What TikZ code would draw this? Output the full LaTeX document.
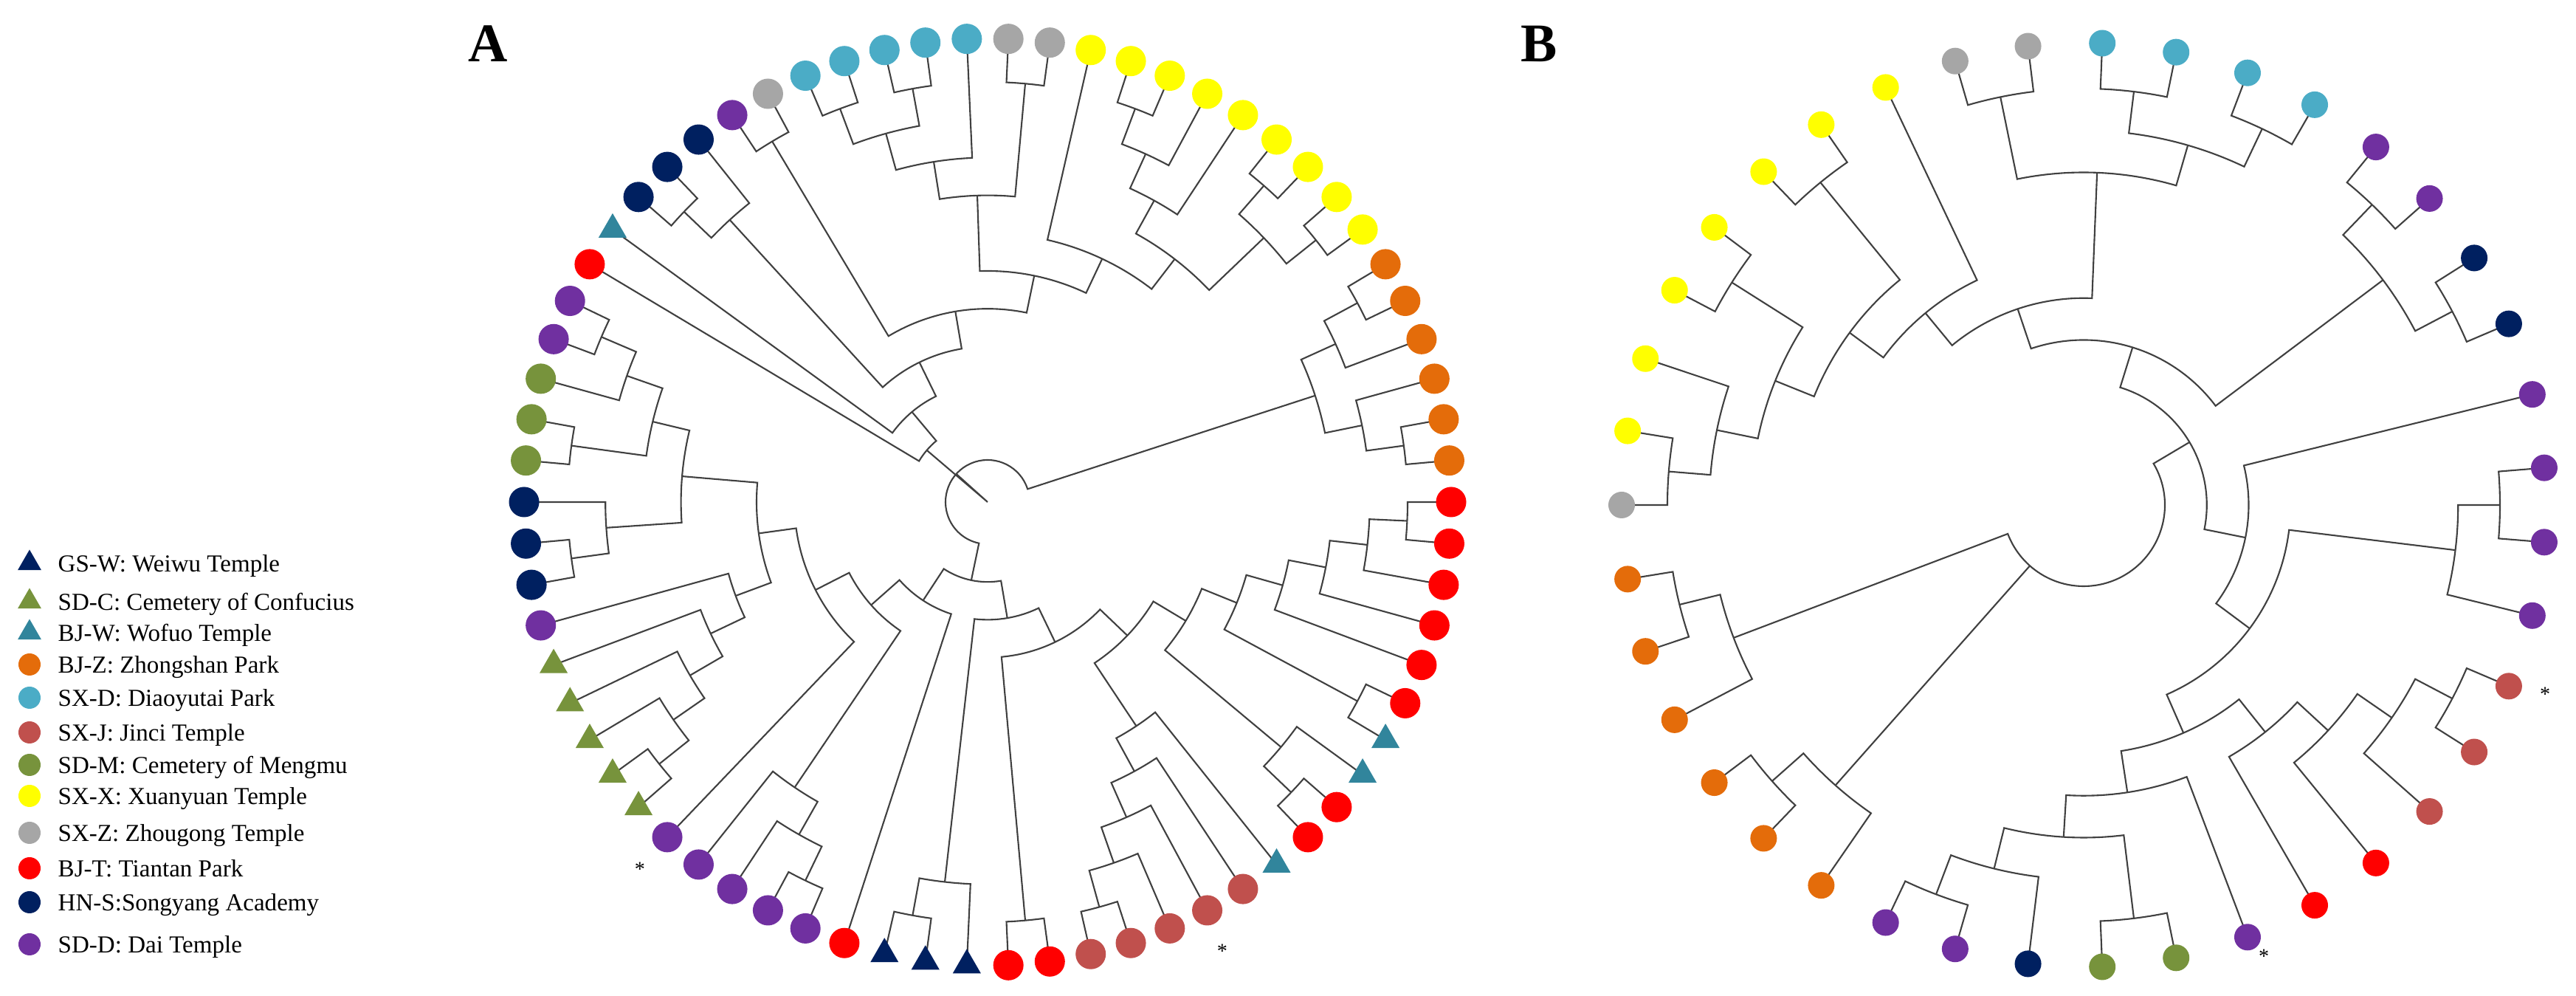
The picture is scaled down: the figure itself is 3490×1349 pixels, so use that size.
\documentclass[tikz,border=0pt]{standalone}
\usepackage{fontspec}
\setmainfont{Liberation Serif}
\usetikzlibrary{shapes.geometric}

\definecolor{cgsw}{HTML}{002060}
\definecolor{csdc}{HTML}{77933C}
\definecolor{cbjw}{HTML}{31859C}
\definecolor{cbjz}{HTML}{E46C0A}
\definecolor{csxd}{HTML}{4BACC6}
\definecolor{csxj}{HTML}{C0504D}
\definecolor{csdm}{HTML}{77933C}
\definecolor{csxx}{HTML}{FFFF00}
\definecolor{csxz}{HTML}{A6A6A6}
\definecolor{cbjt}{HTML}{FF0000}
\definecolor{chns}{HTML}{002060}
\definecolor{csdd}{HTML}{7030A0}

\def\trisize{0.44cm}
\def\dotsize{0.41cm}
\tikzset{
  branch/.style={draw=black!75, line width=0.6pt},
  tiptri/.style={regular polygon, regular polygon sides=3, inner sep=0pt, minimum size=\trisize},
  tipdot/.style={circle, inner sep=0pt, minimum size=\dotsize},
  gsw/.style={tiptri, fill=cgsw}, sdc/.style={tiptri, fill=csdc}, bjw/.style={tiptri, fill=cbjw},
  bjz/.style={tipdot, fill=cbjz}, sxd/.style={tipdot, fill=csxd}, sxj/.style={tipdot, fill=csxj},
  sdm/.style={tipdot, fill=csdm}, sxx/.style={tipdot, fill=csxx}, sxz/.style={tipdot, fill=csxz},
  bjt/.style={tipdot, fill=cbjt}, hns/.style={tipdot, fill=chns}, sdd/.style={tipdot, fill=csdd},
  legtext/.style={font=\fontsize{9.4}{11}\selectfont, inner sep=0pt, anchor=base west},
  panel/.style={font=\fontsize{21}{24}\selectfont\bfseries, inner sep=0pt},
  astnote/.style={font=\fontsize{8}{8}\selectfont, inner sep=0pt}
}

% clade: name, level, child, child
\newcommand{\clade}[4]{%
  \pgfmathsetmacro\brR{\lvbase+\lvstep*#2}%
  \pgfmathsetmacro\brC{0.01*\brR}%
  \edef\brA{\csname ang@#3\endcsname}%
  \edef\brB{\csname ang@#4\endcsname}%
  \pgfmathsetmacro\brM{(\brA+\brB)/2}%
  \draw[branch] (#3) -- (\brA:\brR) arc[start angle=\brA, end angle=\brB, radius=\brC cm] -- (#4);%
  \coordinate (#1) at (\brM:\brR);%
  \expandafter\xdef\csname ang@#1\endcsname{\brM}}
\newcommand{\twig}[2]{%
  \pgfmathsetmacro\brR{\lvbase+\lvstep*#1}%
  \edef\brA{\csname ang@#2\endcsname}%
  \draw[branch] (\brA:\brR) -- (#2);}

\begin{document}
\begin{tikzpicture}[x=0.01cm, y=0.01cm]
\useasboundingbox (0,0) rectangle (3490,1349);

% legend
\def\trisize{0.37cm}\def\dotsize{0.30cm}
\foreach \y/\s/\t [count=\i] in {586/gsw/{GS-W: Weiwu Temple}, 534/sdc/{SD-C: Cemetery of Confucius},
  492/bjw/{BJ-W: Wofuo Temple}, 449/bjz/{BJ-Z: Zhongshan Park}, 404/sxd/{SX-D: Diaoyutai Park},
  357/sxj/{SX-J: Jinci Temple}, 313/sdm/{SD-M: Cemetery of Mengmu}, 271/sxx/{SX-X: Xuanyuan Temple},
  221/sxz/{SX-Z: Zhougong Temple}, 173/bjt/{BJ-T: Tiantan Park}, 127/hns/{HN-S:Songyang Academy},
  70/sdd/{SD-D: Dai Temple}}
{
  \node[\s] (key\i) at (40,\y) {};
  \node[legtext] (lab\i) at (78,{\y-12}) {\t};
}

\node[panel] (labA) at (661,1290) {A};
\node[panel] (labB) at (2085,1290) {B};

% tree A
\begin{scope}[shift={(1338,669)}]
\def\lvbase{5.8}\def\lvstep{51.2}
\def\trisize{0.44cm}\def\dotsize{0.41cm}
\foreach \k in {0,...,69}{%
  \pgfmathsetmacro\ang{\k<18 ? (18-\k)*5.142857 : (88-\k)*5.142857}%
  \coordinate (a\k) at (\ang:628);%
  \expandafter\xdef\csname ang@a\k\endcsname{\ang}}

\clade{oA1}{11}{a12}{a13}
\clade{oA2}{10}{oA1}{a14}
\clade{oA3}{11}{a16}{a17}
\clade{oA4}{10}{a15}{oA3}
\clade{oA}{9}{oA2}{oA4}
\clade{lA1}{11}{a18}{a19}
\clade{lA2}{10}{lA1}{a20}
\clade{lA3}{9}{lA2}{a21}
\clade{lA4}{8}{lA3}{a22}
\clade{lA5}{11}{a23}{a24}
\clade{lA}{7}{lA4}{lA5}
\clade{tA1}{11}{a26}{a27}
\clade{tA}{10}{a25}{tA1}
\clade{mA2}{6}{lA}{tA}
\clade{hA1}{11}{a32}{a33}
\clade{hA2}{10}{hA1}{a31}
\clade{hA3}{9}{hA2}{a30}
\clade{hA4}{8}{hA3}{a29}
\clade{mA1}{7}{hA4}{a28}
\clade{mA}{5}{mA1}{mA2}
\clade{jA}{11}{a34}{a35}
\clade{naA}{4}{jA}{mA}
\clade{gA1}{11}{a37}{a38}
\clade{gA}{10}{a36}{gA1}
\clade{pA}{3}{gA}{naA}
\clade{sA7}{11}{a40}{a41}
\clade{sA6}{10}{a42}{sA7}
\clade{sA4}{9}{a43}{sA6}
\clade{sA14}{11}{a45}{a46}
\clade{sA13}{10}{sA14}{a47}
\clade{sA12}{9}{sA13}{a48}
\clade{sA11}{8}{sA12}{a49}
\clade{sA10}{7}{sA11}{a50}
\clade{vA1}{11}{a51}{a52}
\clade{vA}{10}{vA1}{a53}
\clade{wA5}{11}{a57}{a58}
\clade{wA4}{10}{a56}{wA5}
\clade{wA3}{11}{a54}{a55}
\clade{wA2}{9}{wA3}{wA4}
\clade{wA}{8}{vA}{wA2}
\clade{sA8}{6}{sA10}{wA}
\clade{sA3}{5}{a44}{sA8}
\clade{sA2}{4}{sA4}{sA3}
\clade{sA}{3}{a39}{sA2}
\clade{qA}{2}{sA}{pA}
\clade{rA1}{1}{oA}{qA}
\clade{cA1}{11}{a68}{a69}
\clade{cA2}{11}{a66}{a67}
\clade{cA3}{10}{cA2}{cA1}
\clade{cA4}{9}{cA3}{a0}
\clade{gyA}{11}{a1}{a2}
\clade{cA5}{8}{cA4}{gyA}
\clade{yA7}{11}{a4}{a5}
\clade{yA5}{10}{yA7}{a6}
\clade{yA3}{9}{yA5}{a7}
\clade{yA8}{11}{a8}{a9}
\clade{yA9}{11}{a10}{a11}
\clade{yA4}{10}{yA8}{yA9}
\clade{yA2}{8}{yA3}{yA4}
\clade{yA}{7}{a3}{yA2}
\clade{cA6}{6}{cA5}{yA}
\clade{pkA}{11}{a64}{a65}
\clade{cA7}{5}{pkA}{cA6}
\clade{nvA1}{11}{a61}{a62}
\clade{nvA}{10}{nvA1}{a63}
\clade{n1A}{4}{nvA}{cA7}
\clade{n2A}{3}{a60}{n1A}
\clade{xA}{2}{a59}{n2A}
\coordinate (rootA) at (0,0);
\draw[branch] (rA1) -- (rootA) -- (xA);

\foreach \k in {0,66,67,68,69} \node[sxd] (ma\k) at (a\k) {};
\foreach \k in {1,2,65} \node[sxz] (ma\k) at (a\k) {};
\foreach \k in {3,...,11} \node[sxx] (ma\k) at (a\k) {};
\foreach \k in {12,...,17} \node[bjz] (ma\k) at (a\k) {};
\foreach \k in {18,19,20,21,22,23,26,27,34,35,39,59} \node[bjt] (ma\k) at (a\k) {};
\foreach \k in {24,25,28,60} \node[bjw] (ma\k) at (a\k) {};
\foreach \k in {29,...,33} \node[sxj] (ma\k) at (a\k) {};
\foreach \k in {36,37,38} \node[gsw] (ma\k) at (a\k) {};
\foreach \k in {40,41,42,43,44,50,57,58,64} \node[sdd] (ma\k) at (a\k) {};
\foreach \k in {45,...,49} \node[sdc] (ma\k) at (a\k) {};
\foreach \k in {51,52,53,61,62,63} \node[hns] (ma\k) at (a\k) {};
\foreach \k in {54,55,56} \node[sdm] (ma\k) at (a\k) {};
\end{scope}

% tree B
\begin{scope}[shift={(2823,665)}]
\def\lvbase{53.25}\def\lvstep{56.75}
\def\dotsize{0.36cm}
\foreach \j in {0,...,38}{%
  \pgfmathsetmacro\ang{180-\j*9.230769}%
  \coordinate (b\j) at (\ang:626);%
  \expandafter\xdef\csname ang@b\j\endcsname{\ang}}

\clade{bB1}{9}{b0}{b1}
\clade{bB2}{8}{bB1}{b2}
\clade{bB4}{9}{b3}{b4}
\clade{bB3}{7}{bB2}{bB4}
\clade{bB6}{9}{b5}{b6}
\clade{bB5}{6}{bB3}{bB6}
\clade{bB7}{5}{bB5}{b7}
\clade{gB}{9}{b8}{b9}
\clade{cB1}{9}{b10}{b11}
\clade{cB2}{9}{b12}{b13}
\clade{cB}{8}{cB1}{cB2}
\clade{gcB}{7}{gB}{cB}
\clade{bB8}{4}{bB7}{gcB}
\clade{pB1}{9}{b14}{b15}
\clade{nB1}{9}{b16}{b17}
\clade{bB10}{8}{pB1}{nB1}
\clade{bB9}{3}{bB8}{bB10}
\clade{bB16}{9}{b19}{b20}
\clade{bB15}{8}{bB16}{b21}
\clade{bB22}{9}{b22}{b23}
\clade{bB21}{8}{bB22}{b24}
\clade{bB20}{7}{bB21}{b25}
\clade{bB19}{6}{bB20}{b26}
\clade{bB26}{9}{b31}{b32}
\clade{bB25}{8}{bB26}{b30}
\clade{bB24}{9}{b28}{b29}
\clade{bB23}{7}{bB25}{bB24}
\clade{bB18}{6}{bB23}{b27}
\clade{bB17}{5}{bB18}{bB19}
\clade{bB14}{4}{bB15}{bB17}
\clade{bB12}{3}{b18}{bB14}
\clade{bB11}{2}{bB9}{bB12}
\clade{oB2a}{9}{b34}{b35}
\clade{oB2}{8}{oB2a}{b33}
\clade{oB1a}{9}{b37}{b38}
\clade{oB1}{8}{oB1a}{b36}
\clade{rootB}{1}{bB11}{oB1}
\twig{1}{oB2}

\foreach \j in {0,8,9} \node[sxz] (mb\j) at (b\j) {};
\foreach \j in {1,...,7} \node[sxx] (mb\j) at (b\j) {};
\foreach \j in {10,...,13} \node[sxd] (mb\j) at (b\j) {};
\foreach \j in {14,15,18,19,20,21,27,31,32} \node[sdd] (mb\j) at (b\j) {};
\foreach \j in {16,17,30} \node[hns] (mb\j) at (b\j) {};
\foreach \j in {22,23,24} \node[sxj] (mb\j) at (b\j) {};
\foreach \j in {25,26} \node[bjt] (mb\j) at (b\j) {};
\foreach \j in {28,29} \node[sdm] (mb\j) at (b\j) {};
\foreach \j in {33,...,38} \node[bjz] (mb\j) at (b\j) {};
\end{scope}

\node[astnote] (astA1) at (867,172) {*};
\node[astnote] (astA2) at (1656,61) {*};
\node[astnote] (astB1) at (3448,409) {*};
\node[astnote] (astB2) at (3067,54) {*};
\end{tikzpicture}
\end{document}
